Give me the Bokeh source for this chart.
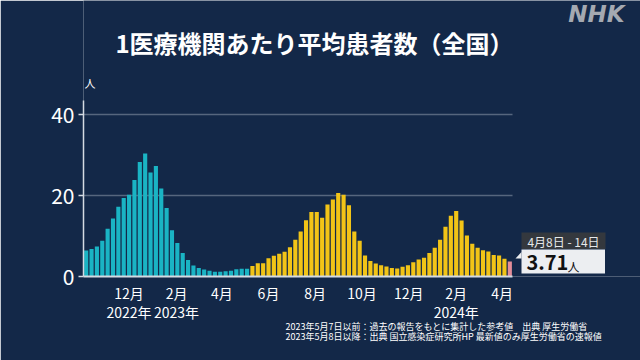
from datetime import date, timedelta
from bokeh.plotting import figure
from bokeh.models import FixedTicker, LinearAxis, Label, Range1d, Title
from bokeh.embed import file_html
from bokeh.resources import INLINE

# ---------------- data ----------------
first_week = date(2022, 10, 3)          # Monday of the first weekly bar
# weekly averages per medical institution (reference values up to 2023-05-07)
ref_values = [6.4, 6.8, 7.4, 8.8, 11.8, 14.3, 17.2, 19.4, 20.2, 23.8, 28.3, 30.4,
              25.7, 27.3, 21.7, 16.9, 11.4, 8.3, 5.8, 4.1, 2.7, 2.1, 1.7, 1.4,
              1.2, 1.2, 1.3, 1.4, 1.8, 1.9, 1.9]
# values from 2023-05-08 on (sentinel surveillance)
new_values = [2.6, 3.3, 3.3, 4.5, 5.1, 5.6, 6.1, 7.2, 9.1, 11.1, 13.9, 15.9,
              15.9, 14.5, 17.8, 19.0, 20.6, 20.2, 17.6, 11.1, 8.8, 5.2, 3.8, 3.2,
              2.8, 2.5, 2.1, 2.0, 2.4, 2.8, 3.5, 4.2, 4.6, 5.8, 7.1, 9.1,
              12.3, 15.0, 16.2, 13.8, 10.1, 8.1, 7.1, 6.5, 6.2, 5.3, 5.2, 4.4]
latest_value = 3.71                      # week of 2024-04-08 .. 04-14

month_ticks = [date(2022, 12, 1), date(2023, 2, 1), date(2023, 4, 1), date(2023, 6, 1),
               date(2023, 8, 1), date(2023, 10, 1), date(2023, 12, 1), date(2024, 2, 1),
               date(2024, 4, 1)]
month_labels = ["12月", "2月", "4月", "6月", "8月", "10月", "12月", "2月", "4月"]
year_ticks = [date(2022, 12, 1), date(2023, 2, 1), date(2024, 2, 1)]
year_labels = ["2022年", "2023年", "2024年"]
y_ticks = [0, 20, 40]

title = "1医療機関あたり平均患者数（全国）"
unit = "人"
note1 = "2023年5月7日以前：過去の報告をもとに集計した参考値　出典 厚生労働省"
note2 = "2023年5月8日以降：出典 国立感染症研究所HP 最新値のみ厚生労働省の速報値"

# ---------------- styling ----------------
BG = "#132848"
TEAL = "#1ab4c4"
YELLOW = "#f2c417"
PINK = "#e38d99"
GRID = "#56667e"
AXIS = "#d4dae2"
FONT = "Noto Sans CJK JP"

W, H = 640, 360
FL, FR, FT, FB = 83, 640, 0, 276          # frame edges in page pixels
AXIS_TOP = 100                            # top of the drawn y axis line
n_weeks = len(ref_values) + len(new_values) + 1
x0 = -0.5
data_end = x0 + 7 * n_weeks
k = (data_end - x0) / 429.0                 # days per pixel
x1 = x0 + (FR - FL) * k
ppu = 4.05                                  # pixels per unit on y
y1 = (FB - FT) / ppu
y_axis_end = (FB - AXIS_TOP) / ppu


def dx(px):
    return x0 + (px - FL) * k


def dy(py):
    return (FB - py) / ppu


def day(d):
    return (d - first_week).days


values = ref_values + new_values + [latest_value]
xs = [day(first_week + timedelta(days=3 + 7 * i)) for i in range(n_weeks)]
colors = [TEAL] * len(ref_values) + [YELLOW] * len(new_values) + [PINK]

p = figure(width=W, height=H, output_backend="svg", toolbar_location=None,
           x_range=Range1d(x0, x1), y_range=Range1d(0, y1),
           min_border_left=FL, min_border_right=W - FR,
           min_border_top=FT, min_border_bottom=H - FB,
           background_fill_color=BG, border_fill_color=BG)
p.outline_line_color = None
p.xgrid.visible = False
p.ygrid.visible = False

# grid lines (only over the data span)
gy = [t for t in y_ticks if t > 0]
p.segment(x0=[x0] * len(gy), x1=[data_end] * len(gy), y0=gy, y1=gy,
          line_color=GRID, line_width=1.5)

p.vbar(x=xs, top=values, bottom=0, width=5.4, fill_color=colors, line_color=None)

# x axis (months)
xa = p.xaxis[0]
xa.ticker = FixedTicker(ticks=[day(d) for d in month_ticks])
xa.major_label_overrides = {day(d): s for d, s in zip(month_ticks, month_labels)}
xa.bounds = (x0, data_end)
xa.axis_line_color = AXIS
xa.axis_line_width = 2
xa.major_tick_line_color = None
xa.minor_tick_line_color = None
xa.major_label_text_color = "white"
xa.major_label_text_font = FONT
xa.major_label_text_font_size = "14px"
xa.major_label_standoff = 0

# second row: years
xa2 = LinearAxis(ticker=FixedTicker(ticks=[day(d) for d in year_ticks]),
                 major_label_overrides={day(d): s for d, s in zip(year_ticks, year_labels)},
                 axis_line_color=None, major_tick_line_color=None, minor_tick_line_color=None,
                 major_label_text_color="white", major_label_text_font=FONT,
                 major_label_text_font_size="14px", major_label_standoff=-10)
p.add_layout(xa2, "below")

# footnotes
p.add_layout(Title(text=note1 + "\n" + note2, align="left", offset=202, standoff=-13,
                   text_color="white", text_font=FONT, text_font_style="normal",
                   text_font_size="9px", text_line_height=0.75), "below")

# y axis
ya = p.yaxis[0]
ya.ticker = FixedTicker(ticks=y_ticks)
ya.bounds = (0, y_axis_end)
ya.axis_line_color = AXIS
ya.axis_line_width = 1.5
ya.major_tick_line_color = AXIS
ya.major_tick_line_width = 1.5
ya.major_tick_out = 5
ya.major_tick_in = 0
ya.minor_tick_line_color = None
ya.major_label_text_color = "white"
ya.major_label_text_font = FONT
ya.major_label_text_font_size = "21px"
ya.major_label_standoff = 4

# titles / texts inside the (enlarged) frame
p.add_layout(Label(x=dx(314), y=dy(42), text=title, text_align="center",
                   text_baseline="middle", text_color="white", text_font=FONT,
                   text_font_style="bold", text_font_size="24px"))
p.add_layout(Label(x=dx(596), y=dy(13), text="NHK", text_align="center",
                   text_baseline="middle", text_color="#a4a9b1", text_font="DejaVu Sans",
                   text_font_style="bold italic", text_font_size="23px"))
p.add_layout(Label(x=dx(84), y=dy(82), text=unit, text_align="left",
                   text_baseline="middle", text_color="white", text_font=FONT,
                   text_font_size="11px"))

# latest value callout
last_start = first_week + timedelta(days=7 * (n_weeks - 1))
last_end = last_start + timedelta(days=6)
period = f"{last_start.month}月{last_start.day}日 - {last_end.day}日"
p.quad(left=[dx(521)], right=[dx(605)], top=[dy(232)], bottom=[dy(248.5)],
       fill_color="#34383e", line_color=None)
p.quad(left=[dx(521)], right=[dx(604.5)], top=[dy(249)], bottom=[dy(273)],
       fill_color="#eceef1", line_color=None)
p.patch(x=[dx(521), dx(521), dx(515)], y=[dy(251.5), dy(258), dy(258)],
        fill_color="#eceef1", line_color=None)
p.add_layout(Label(x=dx(563), y=dy(240.5), text=period, text_align="center",
                   text_baseline="middle", text_color="#e6e8ea", text_font=FONT,
                   text_font_size="12px"))
p.add_layout(Label(x=dx(526), y=dy(262), text=f"{latest_value:.2f}", text_align="left",
                   text_baseline="middle", text_color="#111111", text_font=FONT,
                   text_font_style="bold", text_font_size="20px"))
p.add_layout(Label(x=dx(567), y=dy(266), text=unit, text_align="left",
                   text_baseline="middle", text_color="#111111", text_font=FONT,
                   text_font_size="12px"))

open("out.html", "w").write(file_html(p, INLINE))
